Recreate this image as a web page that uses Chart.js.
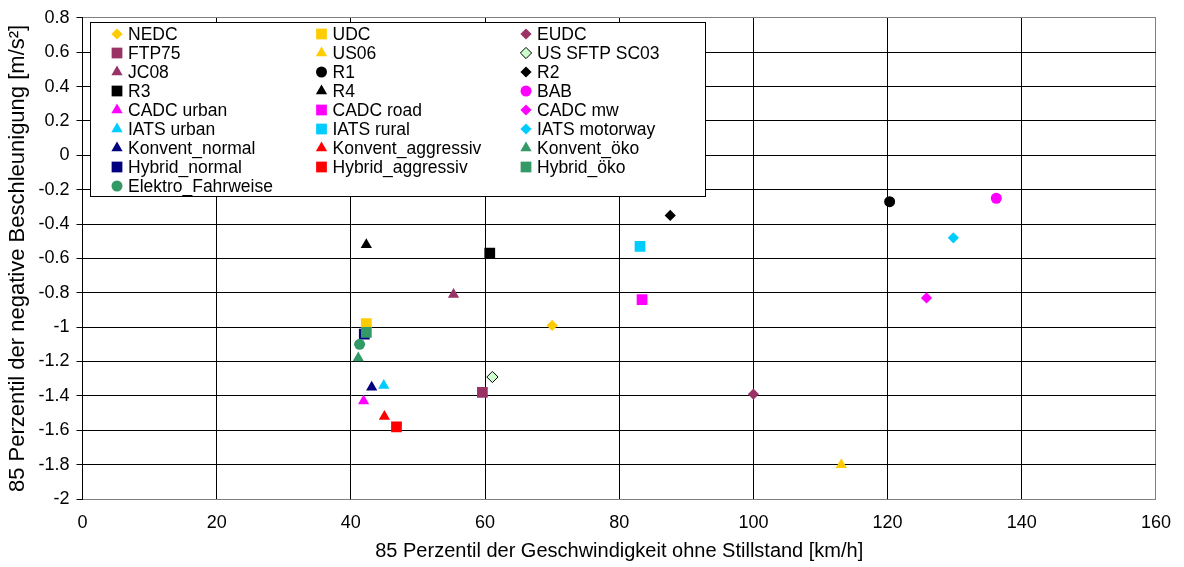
<!DOCTYPE html>
<html>
<head>
<meta charset="utf-8">
<script src="https://cdn.jsdelivr.net/npm/chart.js@4/dist/chart.umd.min.js"></script>
<style>
  html, body { margin: 0; padding: 0; background: #fff; }
  #wrap { width: 1184px; height: 567px; }
</style>
</head>
<body>
<div id="wrap"><canvas id="scatterChart" width="1184" height="567"></canvas></div>
<script>
// Fahrzyklen und Fahrweisen (85. Perzentile)
const seriesNames = [
    'NEDC', 'UDC', 'EUDC',
    'FTP75', 'US06', 'US SFTP SC03',
    'JC08', 'R1', 'R2',
    'R3', 'R4', 'BAB',
    'CADC urban', 'CADC road', 'CADC mw',
    'IATS urban', 'IATS rural', 'IATS motorway',
    'Konvent_normal', 'Konvent_aggressiv', 'Konvent_öko',
    'Hybrid_normal', 'Hybrid_aggressiv', 'Hybrid_öko',
    'Elektro_Fahrweise'
];

// 85 Perzentil der Geschwindigkeit ohne Stillstand [km/h]
const speed85 = [
    70.0, 42.3, 100.0,
    59.6, 113.1, 61.1,
    55.3, 120.3, 87.6,
    60.7, 42.3, 136.2,
    41.9, 83.4, 125.8,
    44.9, 83.1, 129.8,
    43.1, 45.0, 41.1,
    42.0, 46.8, 42.3,
    41.3
];

// 85 Perzentil der negativen Beschleunigung [m/s²]
const decel85 = [
    -0.99, -0.98, -1.39,
    -1.38, -1.80, -1.29,
    -0.81, -0.27, -0.35,
    -0.57, -0.52, -0.25,
    -1.43, -0.84, -0.83,
    -1.34, -0.53, -0.48,
    -1.35, -1.52, -1.18,
    -1.04, -1.58, -1.03,
    -1.10
];

const xTicks = [0, 20, 40, 60, 80, 100, 120, 140, 160];
const yTicks = [0.8, 0.6, 0.4, 0.2, 0, -0.2, -0.4, -0.6, -0.8, -1, -1.2, -1.4, -1.6, -1.8, -2];

// marker look per series
const markerStyle = [
    'rectRot', 'rect', 'rectRot',
    'rect', 'triangle', 'rectRot',
    'triangle', 'circle', 'rectRot',
    'rect', 'triangle', 'circle',
    'triangle', 'rect', 'rectRot',
    'triangle', 'rect', 'rectRot',
    'triangle', 'triangle', 'triangle',
    'rect', 'rect', 'rect',
    'circle'
];
const markerColor = [
    '#FFCC00', '#FFCC00', '#993366',
    '#993366', '#FFCC00', '#CCFFCC',
    '#993366', '#000000', '#000000',
    '#000000', '#000000', '#FF00FF',
    '#FF00FF', '#FF00FF', '#FF00FF',
    '#00CCFF', '#00CCFF', '#00CCFF',
    '#000080', '#FF0000', '#339966',
    '#000080', '#FF0000', '#339966',
    '#339966'
];
const markerSize = { rect: 7.6, rectRot: 5.6, circle: 5.5, triangle: 6.5 };

const FONT = '"Liberation Sans", Arial, sans-serif';

const datasets = seriesNames.map((name, i) => ({
    label: name,
    data: [{ x: speed85[i], y: decel85[i] }],
    pointStyle: markerStyle[i],
    pointRadius: markerSize[markerStyle[i]],
    pointBackgroundColor: markerColor[i],
    pointBorderColor: name === 'US SFTP SC03' ? '#000000' : markerColor[i],
    pointBorderWidth: name === 'US SFTP SC03' ? 1 : 0,
    order: -i // later series on top, like the original
}));

// legend box inside the plot, 3 columns
const boxLegend = {
    id: 'boxLegend',
    afterDraw(chart) {
        const ctx = chart.ctx;
        const x0 = 90, y0 = 22, w = 615, h = 174;
        ctx.save();
        ctx.fillStyle = '#fff';
        ctx.fillRect(x0, y0, w, h);
        ctx.strokeStyle = '#000';
        ctx.lineWidth = 1;
        ctx.strokeRect(x0 + 0.5, y0 + 0.5, w, h);
        ctx.font = '17.5px ' + FONT;
        ctx.textBaseline = 'middle';
        ctx.textAlign = 'left';
        chart.data.datasets.forEach((ds, i) => {
            const col = i % 3, row = Math.floor(i / 3);
            const mx = 117 + col * 204.5, my = 34 + row * 19;
            ctx.fillStyle = ds.pointBackgroundColor;
            ctx.strokeStyle = ds.pointBorderColor;
            ctx.lineWidth = ds.pointBorderWidth;
            Chart.helpers.drawPoint(ctx, {
                pointStyle: ds.pointStyle,
                radius: ds.pointRadius,
                borderWidth: ds.pointBorderWidth,
                rotation: 0
            }, mx, my);
            ctx.fillStyle = '#000';
            ctx.fillText(ds.label, mx + 11, my + 1);
        });
        ctx.restore();
    }
};

const ctx = document.getElementById('scatterChart').getContext('2d');
new Chart(ctx, {
    type: 'scatter',
    data: { datasets: datasets },
    plugins: [boxLegend],
    options: {
        responsive: false,
        animation: false,
        events: [],
        layout: { padding: { top: 16, right: 26.5, left: 0, bottom: 0 } },
        plugins: {
            legend: { display: false },
            tooltip: { enabled: false }
        },
        scales: {
            x: {
                type: 'linear',
                min: 0,
                max: 160,
                afterBuildTicks: s => { s.ticks = xTicks.map(v => ({ value: v })); },
                afterFit: s => { s.height = 68; },
                ticks: {
                    color: '#000',
                    font: { family: FONT, size: 18 },
                    padding: 13,
                    maxRotation: 0,
                    autoSkip: false
                },
                grid: {
                    color: c => (c.tick && c.tick.value === 160) ? '#808080' : '#000',
                    lineWidth: 1,
                    drawTicks: false
                },
                border: { color: '#808080', width: 1 },
                title: {
                    display: true,
                    text: '85 Perzentil der Geschwindigkeit ohne Stillstand [km/h]',
                    color: '#000',
                    font: { family: FONT, size: 20 },
                    padding: { top: 0, bottom: 4 }
                }
            },
            y: {
                type: 'linear',
                min: -2,
                max: 0.8,
                afterBuildTicks: s => { s.ticks = yTicks.map(v => ({ value: v })); },
                afterFit: s => { s.width = 82.5; },
                ticks: {
                    color: '#000',
                    font: { family: FONT, size: 18 },
                    padding: 7,
                    autoSkip: false,
                    callback: v => String(Math.round(v * 10) / 10)
                },
                grid: {
                    color: c => (c.tick && c.tick.value === 0.8) ? '#808080' : '#000',
                    lineWidth: 1,
                    tickLength: 6,
                    tickColor: '#000'
                },
                border: { color: '#000', width: 1 },
                title: {
                    display: true,
                    text: '85 Perzentil der negative Beschleunigung [m/s²]',
                    color: '#000',
                    font: { family: FONT, size: 22 },
                    padding: { top: 5, bottom: 0 }
                }
            }
        }
    }
});
</script>
</body>
</html>
